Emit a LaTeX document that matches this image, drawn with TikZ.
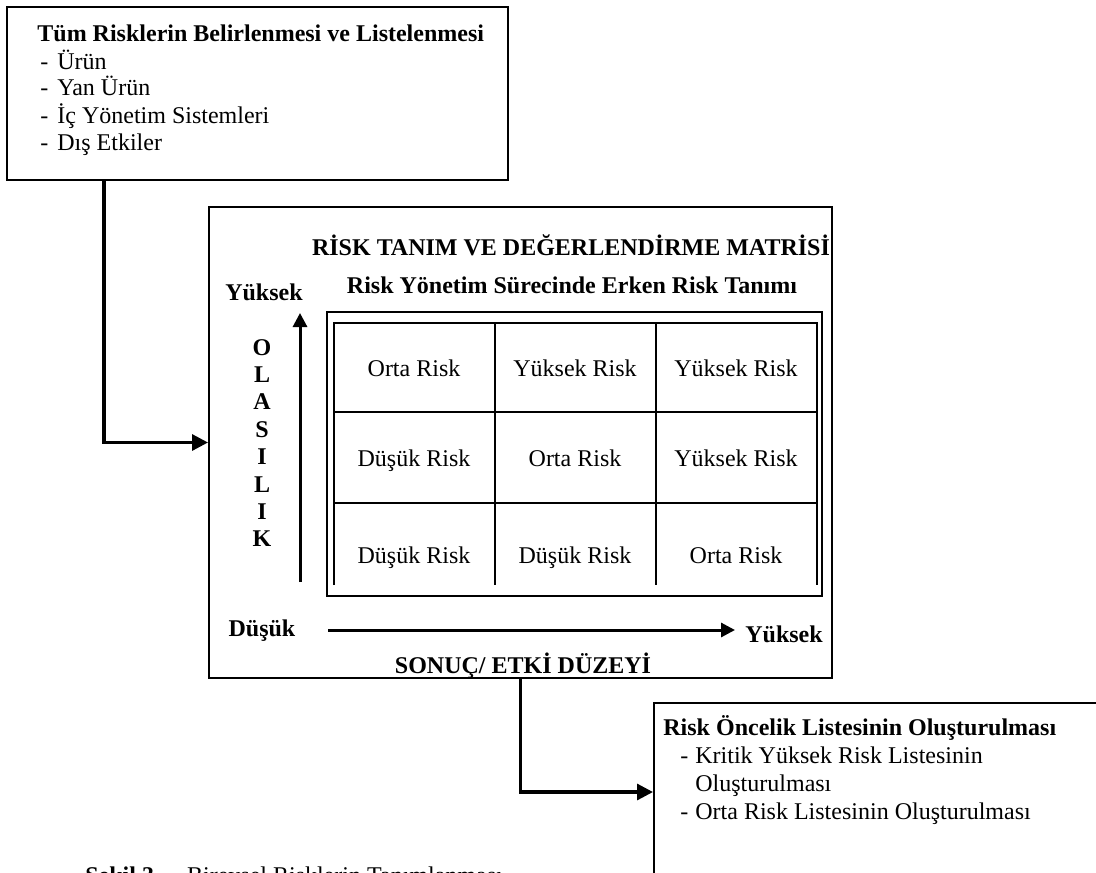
\documentclass[tikz,border=0pt]{standalone}
\usepackage{fontspec}
\setmainfont{Liberation Serif}
\usetikzlibrary{arrows.meta,fit}
\begin{document}
\begin{tikzpicture}[x=0.5pt,y=-0.5pt,
  box/.style={draw,line width=1pt,inner sep=0pt},
  conn/.style={line width=1.6pt,-{Triangle[length=8pt,width=8pt]}},
  axis/.style={line width=1.5pt,-{Triangle[length=7pt,width=7pt]}},
  gridline/.style={line width=1pt},
  txt/.style={inner sep=0pt,font=\fontsize{12}{13.8}\selectfont},
  btxt/.style={inner sep=0pt,font=\fontsize{12}{13.8}\selectfont\bfseries},
]
\useasboundingbox (0,0) rectangle (1096,872);
\clip (0,0) rectangle (1096,872);

% boxes
\node[box,fit={(7,7)(508,180)}] (top) {};
\node[box,fit={(209,207)(832,678)}] (mat) {};
\node[box,fit={(654,703)(1120,881)}] (res) {};
\node[box,fit={(327,312)(822,596)}] (frame) {};

% top box text
\node[btxt,anchor=base west] (t0) at (37,42) {Tüm Risklerin Belirlenmesi ve Listelenmesi};
\foreach \y/\t [count=\i] in {69/Ürün, 96/Yan Ürün, 123/İç Yönetim Sistemleri, 150/Dış Etkiler}{
  \node[txt,anchor=base west] (td\i) at (40,\y) {-};
  \node[txt,anchor=base west] (tl\i) at (57,\y) {\t};
}

% matrix titles
\node[btxt,anchor=base] (mt1) at (571,255) {RİSK TANIM VE DEĞERLENDİRME MATRİSİ};
\node[btxt,anchor=base] (mt2) at (572,293) {Risk Yönetim Sürecinde Erken Risk Tanımı};
\node[btxt,anchor=base] (yhigh) at (264,300) {Yüksek};
\foreach \c [count=\i] in {O,L,A,S,I,L,I,K}
  \node[btxt,anchor=base] (ol\i) at (262,{355+27.4*(\i-1)}) {\c};

% grid
\draw[gridline] (334,585) -- (334,323) -- (817,323) -- (817,585);
\draw[gridline] (334,412) -- (817,412);
\draw[gridline] (334,503) -- (817,503);
\draw[gridline] (495,323) -- (495,585);
\draw[gridline] (656,323) -- (656,585);

\node[txt,anchor=base] (c11) at (414,376) {Orta Risk};
\node[txt,anchor=base] (c12) at (575,376) {Yüksek Risk};
\node[txt,anchor=base] (c13) at (736,376) {Yüksek Risk};
\node[txt,anchor=base] (c21) at (414,466) {Düşük Risk};
\node[txt,anchor=base] (c22) at (575,466) {Orta Risk};
\node[txt,anchor=base] (c23) at (736,466) {Yüksek Risk};
\node[txt,anchor=base] (c31) at (414,563) {Düşük Risk};
\node[txt,anchor=base] (c32) at (575,563) {Düşük Risk};
\node[txt,anchor=base] (c33) at (736,563) {Orta Risk};

% axes
\coordinate (v0) at (300,582);
\coordinate (v1) at (300,313);
\draw[axis] (v0) -- (v1);
\coordinate (h0) at (328,630);
\coordinate (h1) at (735,630);
\draw[axis] (h0) -- (h1);
\node[btxt,anchor=base] (xlow) at (262,636) {Düşük};
\node[btxt,anchor=base] (xhigh) at (784,642) {Yüksek};
\node[btxt,anchor=base] (xlab) at (523,673) {SONUÇ/ ETKİ DÜZEYİ};

% result box text
\node[btxt,anchor=base west] (r0) at (663,735) {Risk Öncelik Listesinin Oluşturulması};
\node[txt,anchor=base west] (rd1) at (680,763) {-};
\node[txt,anchor=base west] (rl1) at (695,763) {Kritik Yüksek Risk Listesinin};
\node[txt,anchor=base west] (rl1b) at (695,791) {Oluşturulması};
\node[txt,anchor=base west] (rd2) at (680,819) {-};
\node[txt,anchor=base west] (rl2) at (695,819) {Orta Risk Listesinin Oluşturulması};

% connectors
\draw[conn] ([xshift=49pt]top.south west) |- (mat.west);
\draw[conn] (mat.south) |- (res.west);

% caption (cut off by the page edge, as in the reference)
\node[txt,anchor=base west] (cap) at (85,883) {\textbf{Şekil 3.}\hspace{13.5pt}Bireysel Risklerin Tanımlanması};
\end{tikzpicture}
\end{document}
